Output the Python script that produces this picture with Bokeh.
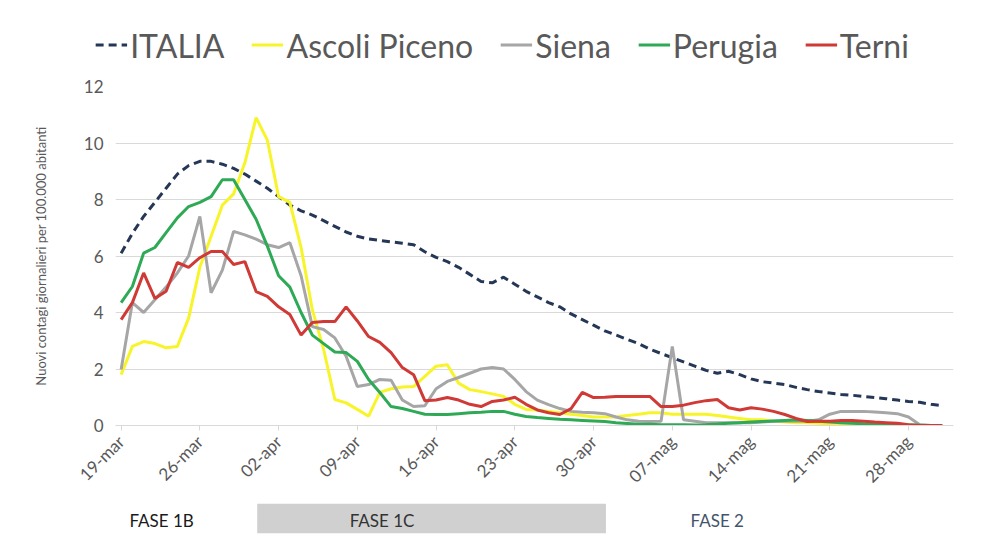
from bokeh.plotting import figure
from bokeh.models import Range1d, Legend, LegendItem, FixedTicker
from bokeh.layouts import column, row
from bokeh.embed import file_html
from bokeh.resources import INLINE
from bokeh.core.properties import value
from math import pi

# ---- data (day index 0 = 19-mar ... 73 = 31-mag) ----
days = list(range(74))
tick_days = [0, 7, 14, 21, 28, 35, 42, 49, 56, 63, 70]
tick_labels = ["19-mar", "26-mar", "02-apr", "09-apr", "16-apr", "23-apr",
               "30-apr", "07-mag", "14-mag", "21-mag", "28-mag"]

italia = [6.1, 6.8, 7.4, 7.9, 8.4, 8.9, 9.2, 9.35, 9.35, 9.25, 9.1, 8.9, 8.65, 8.4, 8.1,
          7.8, 7.6, 7.45, 7.25, 7.05, 6.85, 6.7, 6.6, 6.55, 6.5, 6.45, 6.4, 6.15, 5.95,
          5.8, 5.6, 5.35, 5.1, 5.05, 5.25, 5.0, 4.75, 4.55, 4.35, 4.2, 3.95, 3.75, 3.55,
          3.35, 3.2, 3.05, 2.9, 2.7, 2.55, 2.4, 2.25, 2.1, 1.95, 1.85, 1.92, 1.8, 1.65,
          1.55, 1.5, 1.45, 1.35, 1.27, 1.2, 1.15, 1.1, 1.07, 1.03, 0.99, 0.95, 0.9, 0.85,
          0.82, 0.75, 0.7]
ascoli = [1.8, 2.8, 2.97, 2.9, 2.75, 2.8, 3.8, 5.6, 6.7, 7.8, 8.2, 9.3, 10.9, 10.1, 8.1,
          7.9, 6.3, 4.1, 2.7, 0.92, 0.8, 0.57, 0.33, 1.17, 1.3, 1.36, 1.38, 1.74, 2.1,
          2.15, 1.5, 1.27, 1.2, 1.12, 1.03, 0.75, 0.57, 0.55, 0.5, 0.45, 0.4, 0.35, 0.3,
          0.3, 0.3, 0.35, 0.4, 0.45, 0.45, 0.4, 0.4, 0.4, 0.4, 0.35, 0.3, 0.25, 0.2, 0.2,
          0.15, 0.12, 0.1, 0.1, 0.08, 0.05, 0.05, 0.05, 0.05, 0.05, 0.05, 0.03, 0.02,
          0.0, 0.0, 0.0]
siena = [1.98, 4.35, 4.0, 4.45, 4.9, 5.4, 6.0, 7.4, 4.7, 5.5, 6.87, 6.75, 6.6, 6.4, 6.3,
         6.47, 5.3, 3.5, 3.4, 3.1, 2.45, 1.38, 1.45, 1.63, 1.6, 0.9, 0.67, 0.7, 1.3, 1.56,
         1.7, 1.85, 2.0, 2.05, 2.0, 1.63, 1.2, 0.9, 0.74, 0.6, 0.5, 0.47, 0.45, 0.42, 0.3,
         0.2, 0.15, 0.14, 0.15, 2.8, 0.2, 0.15, 0.1, 0.1, 0.1, 0.1, 0.1, 0.12, 0.15, 0.15,
         0.15, 0.15, 0.2, 0.4, 0.5, 0.5, 0.5, 0.48, 0.45, 0.42, 0.3, 0.03, 0.0, 0.0]
perugia = [4.35, 4.92, 6.1, 6.3, 6.83, 7.35, 7.75, 7.9, 8.1, 8.7, 8.7, 8.0, 7.3, 6.35, 5.3,
           4.9, 4.0, 3.2, 2.9, 2.6, 2.58, 2.27, 1.63, 1.17, 0.67, 0.6, 0.5, 0.4, 0.39, 0.39,
           0.42, 0.45, 0.47, 0.5, 0.5, 0.4, 0.32, 0.28, 0.25, 0.22, 0.2, 0.18, 0.16, 0.14,
           0.1, 0.07, 0.04, 0.04, 0.03, 0.03, 0.03, 0.02, 0.03, 0.05, 0.08, 0.1, 0.12, 0.14,
           0.16, 0.18, 0.2, 0.18, 0.15, 0.12, 0.1, 0.08, 0.06, 0.05, 0.04, 0.03, 0.02, 0.01,
           0.0, 0.0]
terni = [3.75, 4.35, 5.4, 4.5, 4.75, 5.77, 5.6, 5.94, 6.16, 6.16, 5.7, 5.8, 4.74, 4.57, 4.2,
         3.93, 3.2, 3.65, 3.68, 3.68, 4.2, 3.7, 3.15, 2.94, 2.58, 2.05, 1.8, 0.88, 0.9, 0.99,
         0.9, 0.75, 0.67, 0.85, 0.9, 1.0, 0.75, 0.55, 0.45, 0.39, 0.6, 1.17, 0.99, 1.0, 1.03,
         1.03, 1.03, 1.03, 0.67, 0.67, 0.72, 0.81, 0.88, 0.92, 0.63, 0.55, 0.63, 0.58, 0.5,
         0.39, 0.25, 0.14, 0.15, 0.15, 0.18, 0.18, 0.15, 0.12, 0.1, 0.08, 0.03, 0.0, 0.0, 0.0]

series_names = ["ITALIA", "Ascoli Piceno", "Siena", "Perugia", "Terni"]
series_values = [italia, ascoli, siena, perugia, terni]

phase_names = ["FASE 1B", "FASE 1C", "FASE 2"]
phase_text_day = [3.6, 23.2, 53.0]
phase_box_start = [12.1]
phase_box_end = [43.1]

y_title = "Nuovi contagi giornalieri per 100.000 abitanti"

# ---- styling ----
FONT = "Lato"
colors = ["#253756", "#F7F52A", "#A6A6A6", "#2EA955", "#D03A36"]
dashes = ["8 5", "solid", "solid", "solid", "solid"]
W = 966
LEFT, RIGHT = 115, 13
LEG_H = 77
TOP, BOTTOM = 9, 78
FRAME_H = 339
H = TOP + FRAME_H + BOTTOM
STRIP_H = 35

# ---- legend strip (top) ----
lg = figure(width=W, height=LEG_H, output_backend="svg", toolbar_location=None,
            x_range=Range1d(-200, -199), y_range=Range1d(0, 1),
            x_axis_type=None, y_axis_type=None,
            min_border_left=38, min_border_right=0, min_border_top=12, min_border_bottom=0)
lg.grid.grid_line_color = None
lg.outline_line_color = None
items = []
for name, vals, c, d in zip(series_names, series_values, colors, dashes):
    r = lg.line(days, vals, line_color=c, line_width=3, line_dash=d)
    items.append(LegendItem(label=name, renderers=[r]))
legend = Legend(items=items, orientation="horizontal", location="center",
                label_text_font=FONT, label_text_font_size="32px",
                label_text_color="#595959", glyph_width=32, glyph_height=28,
                spacing=27, label_standoff=3, border_line_color=None,
                background_fill_alpha=0, margin=0, padding=0)
lg.add_layout(legend, "center")

# ---- main chart ----
p = figure(width=W, height=H, output_backend="svg", toolbar_location=None,
           x_range=Range1d(-0.5, 74), y_range=Range1d(0, 12),
           min_border_left=LEFT, min_border_right=RIGHT,
           min_border_top=TOP, min_border_bottom=BOTTOM)
p.outline_line_color = None
p.xgrid.grid_line_color = None
p.ygrid.grid_line_color = "#D9D9D9"
p.ygrid.grid_line_width = 1

p.yaxis.ticker = FixedTicker(ticks=[0, 2, 4, 6, 8, 10, 12])
p.yaxis.axis_line_color = None
p.yaxis.major_tick_line_color = None
p.yaxis.major_tick_out = 0
p.yaxis.major_tick_in = 0
p.yaxis.minor_tick_line_color = None
p.yaxis.major_label_text_font = FONT
p.yaxis.major_label_text_font_size = "17px"
p.yaxis.major_label_text_color = "#595959"
p.yaxis.major_label_standoff = 12
p.yaxis.axis_label = y_title
p.yaxis.axis_label_text_font = FONT
p.yaxis.axis_label_text_font_size = "13px"
p.yaxis.axis_label_text_font_style = "normal"
p.yaxis.axis_label_text_color = "#595959"
p.yaxis.axis_label_standoff = 32

p.xaxis.ticker = FixedTicker(ticks=tick_days)
p.xaxis.major_label_overrides = {d: l for d, l in zip(tick_days, tick_labels)}
p.xaxis.major_label_orientation = pi / 4
p.xaxis.axis_line_color = "#D9D9D9"
p.xaxis.major_tick_line_color = "#D9D9D9"
p.xaxis.major_tick_in = 0
p.xaxis.major_tick_out = 5
p.xaxis.minor_tick_line_color = None
p.xaxis.major_label_text_font = FONT
p.xaxis.major_label_text_font_size = "17px"
p.xaxis.major_label_text_color = "#595959"
p.xaxis.major_label_standoff = 8

for vals, c, d in zip(series_values, colors, dashes):
    p.line(days, vals, line_color=c, line_width=3, line_dash=d)

# ---- phase strip (bottom) ----
b = figure(width=W, height=STRIP_H, output_backend="svg", toolbar_location=None,
           x_range=p.x_range, y_range=Range1d(0, 1),
           x_axis_type=None, y_axis_type=None,
           min_border_left=LEFT, min_border_right=RIGHT,
           min_border_top=0, min_border_bottom=0)
b.grid.grid_line_color = None
b.outline_line_color = None
b.quad(left=phase_box_start, right=phase_box_end, bottom=0.15, top=1.0,
       fill_color="#D0D0D0", line_color=None)
b.text(x=phase_text_day, y=[0.52] * 3, text=phase_names,
       text_color=["#1A1A1A", "#333333", "#44546A"],
       text_font=value(FONT), text_font_size="17px",
       text_align="center", text_baseline="middle")

layout = column(row(lg), p, b, spacing=0)
open("out.html", "w").write(file_html(layout, INLINE))
